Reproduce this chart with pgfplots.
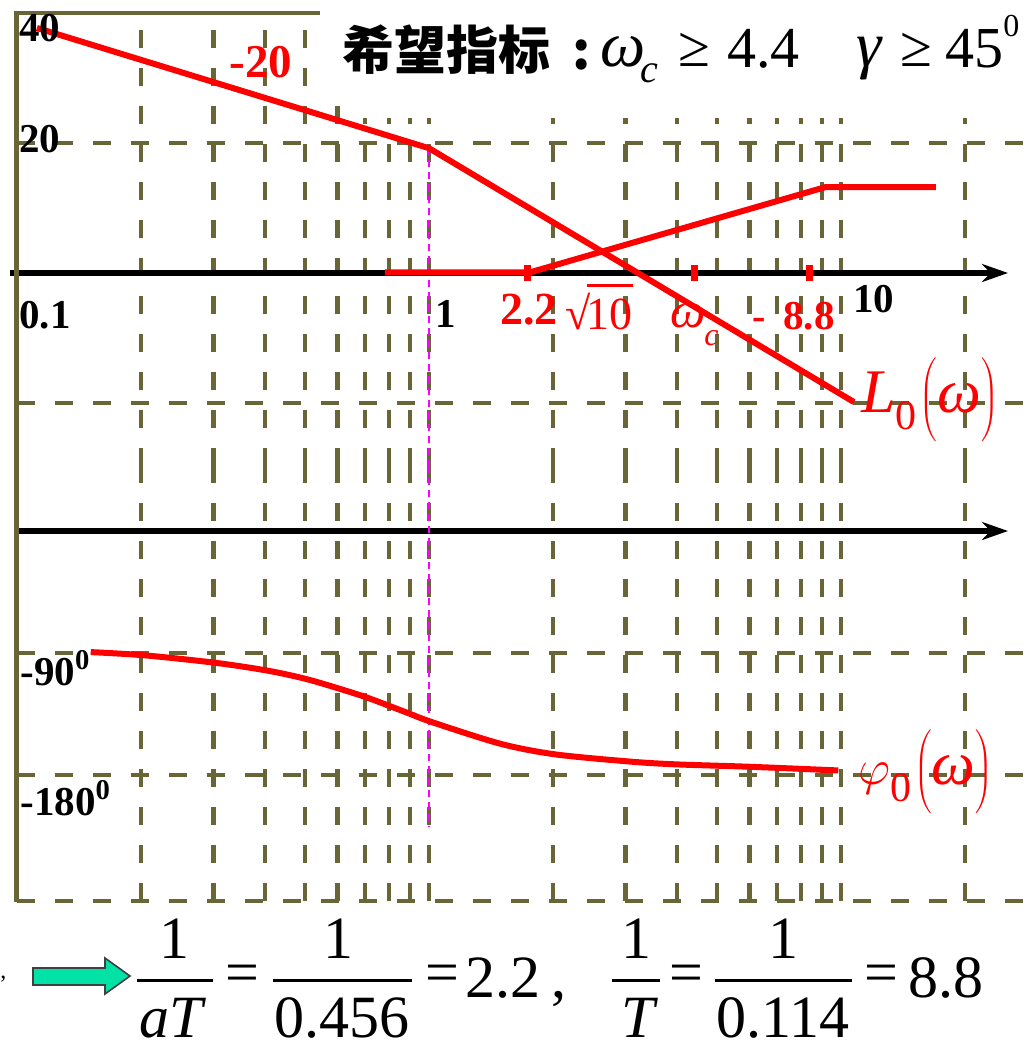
\documentclass[border=0pt]{standalone}
\usepackage{pgfplots}
\pgfplotsset{compat=1.18}
\usepackage{fontspec}
\setmainfont{Liberation Serif}
\newfontfamily\cjk{Noto Sans CJK SC}
\usetikzlibrary{arrows.meta}
\definecolor{olv}{RGB}{104,102,54}
\definecolor{rd}{RGB}{255,0,0}
\definecolor{mg}{RGB}{255,0,255}
\definecolor{tl}{RGB}{0,226,166}
\newcommand\lab{\fontsize{20.5}{22}\selectfont\bfseries}
\newcommand\fm{\fontsize{30}{34}\selectfont}
\begin{document}
\begin{tikzpicture}
\useasboundingbox (0,0) rectangle (516pt,-521pt);
% magnitude plane
\begin{axis}[xmode=log, log basis x=10, xmin=0.1, xmax=29.08,
  scale only axis, width=507.5pt, clip=false,
  axis line style={draw=none},
  xtick={0.1,1,10},
  minor xtick={0.2,0.3,0.4,0.5,0.6,0.7,0.8,0.9,2,3,4,5,6,7,8,9,20},
  xmajorgrids, xminorgrids, ymajorgrids,
  major grid style={olv, line width=2.2pt, dash pattern=on 9pt off 10pt},
  minor grid style={olv, line width=2.2pt, dash pattern=on 9pt off 10pt},
  xticklabels={}, yticklabels={},
  major tick length=0pt, minor tick length=0pt,
  at={(8.5pt,-6.5pt)}, anchor=north west, height=226.5pt,
  ymin=-29.69, ymax=40, ytick={20,-20}]
  \draw[line width=3pt, -{Stealth[length=13pt,width=9pt]}] (axis cs:0.0962,0) -- (axis cs:25.43,0);
  \draw[mg, line width=0.9pt, dash pattern=on 3.5pt off 2.5pt] (axis cs:1,19.2) -- (axis cs:1,-29.69);
  \addplot[rd, line width=3pt] coordinates {(0.1118,37.7) (1,19.2) (10.75,-19.85)};
  \addplot[rd, line width=3pt] coordinates {(0.782,0.1) (1.759,0.1) (9.15,13.2) (17.0,13.2)};
  \addplot[rd, only marks, mark=|, mark size=4pt, mark options={line width=3.5pt}] coordinates {(1.73,0) (4.40,0) (8.4,0)};
\end{axis}
% phase plane
\begin{axis}[xmode=log, log basis x=10, xmin=0.1, xmax=29.08,
  scale only axis, width=507.5pt, clip=false,
  axis line style={draw=none},
  xtick={0.1,1,10},
  minor xtick={0.2,0.3,0.4,0.5,0.6,0.7,0.8,0.9,2,3,4,5,6,7,8,9,20},
  xmajorgrids, xminorgrids, ymajorgrids,
  major grid style={olv, line width=2.2pt, dash pattern=on 9pt off 10pt},
  minor grid style={olv, line width=2.2pt, dash pattern=on 9pt off 10pt},
  xticklabels={}, yticklabels={},
  major tick length=0pt, minor tick length=0pt,
  at={(8.5pt,-233pt)}, anchor=north west, height=217.5pt,
  ymin=-272.9, ymax=47.95, ytick={-90,-180,-272.9}]
  \draw[line width=3pt, -{Stealth[length=13pt,width=9pt]}] (axis cs:0.1,0) -- (axis cs:25.43,0);
  \draw[mg, line width=0.9pt, dash pattern=on 3.5pt off 2.5pt] (axis cs:1,47.95) -- (axis cs:1,-217.6);
  \addplot[rd, line width=3pt, smooth] coordinates {
    (0.151,-89.3) (0.204,-91.7) (0.303,-97.2) (0.406,-103.0) (0.501,-109.0)
    (0.603,-116.1) (0.705,-122.7) (0.806,-129.3) (0.895,-134.6) (1.02,-141.1)
    (1.49,-156.9) (2.02,-164.7) (3.06,-170.0) (3.97,-172.1) (6.02,-173.9) (9.85,-176.6)};
\end{axis}
\begin{scope}[x=0.5pt,y=-0.5pt]
  % borders
  \draw[olv, line width=2.4pt] (16.5,11) -- (16.5,902);
  \draw[olv, line width=2pt] (15,12.7) -- (320,12.7);
  % title background
  \fill[white] (320,0) rectangle (351,87);
  \fill[white] (350,0) rectangle (1032,118);
  % axis labels
  \node[anchor=base west,inner sep=0,font=\lab] at (19,42) {40};
  \node[anchor=base west,inner sep=0,font=\lab] at (19,153) {20};
  \node[anchor=base west,inner sep=0,font=\lab] at (19,329) {0.1};
  \node[anchor=base west,inner sep=0,font=\lab] at (435,328) {1};
  \node[anchor=base west,inner sep=0,font=\lab] at (853,313) {10};
  \node[anchor=base west,inner sep=0,font=\lab] at (20,685) {-90\textsuperscript{0}};
  \node[anchor=base west,inner sep=0,font=\lab] at (20,815) {-180\textsuperscript{0}};
  % red labels
  \node[anchor=base west,inner sep=0,text=rd,font=\fontsize{23.5}{26}\selectfont\bfseries] at (229,78) {-20};
  \node[anchor=base west,inner sep=0,text=rd,font=\fontsize{23}{26}\selectfont\bfseries] at (500,325) {2.2};
  \node[anchor=base west,inner sep=0,text=rd,font=\fontsize{23}{26}\selectfont] at (565,330) {√\kern-0.08em\rlap{\rule[0.93em]{1.0em}{0.06em}}10};
  \node[anchor=base west,inner sep=0,text=rd,font=\fontsize{25}{28}\selectfont\itshape] at (670,328) {ω};
  \node[anchor=base west,inner sep=0,text=rd,font=\fontsize{16}{18}\selectfont\itshape] at (704,346) {c};
  \node[anchor=base west,inner sep=0,text=rd,font=\fontsize{20}{22}\selectfont\bfseries] at (752,330) {-};
  \node[anchor=base west,inner sep=0,text=rd,font=\fontsize{20.5}{22}\selectfont\bfseries] at (783,330) {8.8};
  \node[anchor=base west,inner sep=0,text=rd,font=\fontsize{31}{36}\selectfont] at (861,412)
    {{\itshape L}\raisebox{-0.28em}{\fontsize{21}{24}\selectfont 0}\kern0.05em$\left(\rule[-10pt]{0pt}{37pt}\mbox{\itshape ω}\right)$};
  \node[anchor=base west,inner sep=0,text=rd,font=\fontsize{31}{36}\selectfont] at (858,784)
    {$\varphi$\raisebox{-0.28em}{\fontsize{21}{24}\selectfont 0}\kern0.05em$\left(\rule[-10pt]{0pt}{37pt}\mbox{\itshape ω}\right)$};
  % title
  \node[anchor=base west,inner sep=0,font=\cjk\bfseries\fontsize{26}{30}\selectfont] at (342,70) {希望指标};
  \node[anchor=base west,inner sep=0,font=\cjk\bfseries\fontsize{26}{30}\selectfont] at (572,70) {:};
  \node[anchor=base west,inner sep=0,font=\fontsize{32}{34}\selectfont\itshape] at (600,67) {ω};
  \node[anchor=base west,inner sep=0,font=\fontsize{20}{22}\selectfont\itshape] at (640,83) {c};
  \node[anchor=base west,inner sep=0,font=\fontsize{29}{32}\selectfont] at (678,67) {≥};
  \node[anchor=base west,inner sep=0,font=\fontsize{29}{32}\selectfont] at (727,68) {4.4};
  \node[anchor=base west,inner sep=0,font=\fontsize{32}{34}\selectfont\itshape] at (856,67) {γ};
  \node[anchor=base west,inner sep=0,font=\fontsize{29}{32}\selectfont] at (900,67) {≥};
  \node[anchor=base west,inner sep=0,font=\fontsize{29}{32}\selectfont] at (945,68) {45};
  \node[anchor=base west,inner sep=0,font=\fontsize{16}{18}\selectfont] at (1003,37) {0};
  % bottom formula
  \filldraw[fill=tl, draw=black!75, line width=0.8pt] (33,968) -- (105,968) -- (105,958) -- (130,976) -- (105,994) -- (105,985) -- (33,985) -- cycle;
  \draw[line width=1.5pt] (137,980) -- (213,980);
  \node[anchor=base,inner sep=0,font=\fm] at (174,958) {1};
  \node[anchor=base,inner sep=0,font=\fm\itshape] at (171,1037) {aT};
  \node[inner sep=0,font=\fm] at (242,979) {=};
  \draw[line width=1.5pt] (273,980) -- (412,980);
  \node[anchor=base,inner sep=0,font=\fm] at (338,958) {1};
  \node[anchor=base,inner sep=0,font=\fm] at (342,1037) {0.456};
  \node[inner sep=0,font=\fm] at (442,979) {=};
  \node[anchor=base west,inner sep=0,font=\fm] at (465,997) {2.2};
  \node[anchor=base west,inner sep=0,font=\fm] at (551,997) {,};
  \draw[line width=1.5pt] (612,980) -- (660,980);
  \node[anchor=base,inner sep=0,font=\fm] at (636,958) {1};
  \node[anchor=base,inner sep=0,font=\fm\itshape] at (638,1037) {T};
  \node[inner sep=0,font=\fm] at (686,979) {=};
  \draw[line width=1.5pt] (715,980) -- (852,980);
  \node[anchor=base,inner sep=0,font=\fm] at (783,958) {1};
  \node[anchor=base,inner sep=0,font=\fm] at (783,1037) {0.114};
  \node[inner sep=0,font=\fm] at (881,979) {=};
  \node[anchor=base west,inner sep=0,font=\fm] at (908,997) {8.8};
  \node[anchor=base west,inner sep=0,font=\fontsize{12}{14}\selectfont] at (0,978) {,};
\end{scope}
\end{tikzpicture}
\end{document}
